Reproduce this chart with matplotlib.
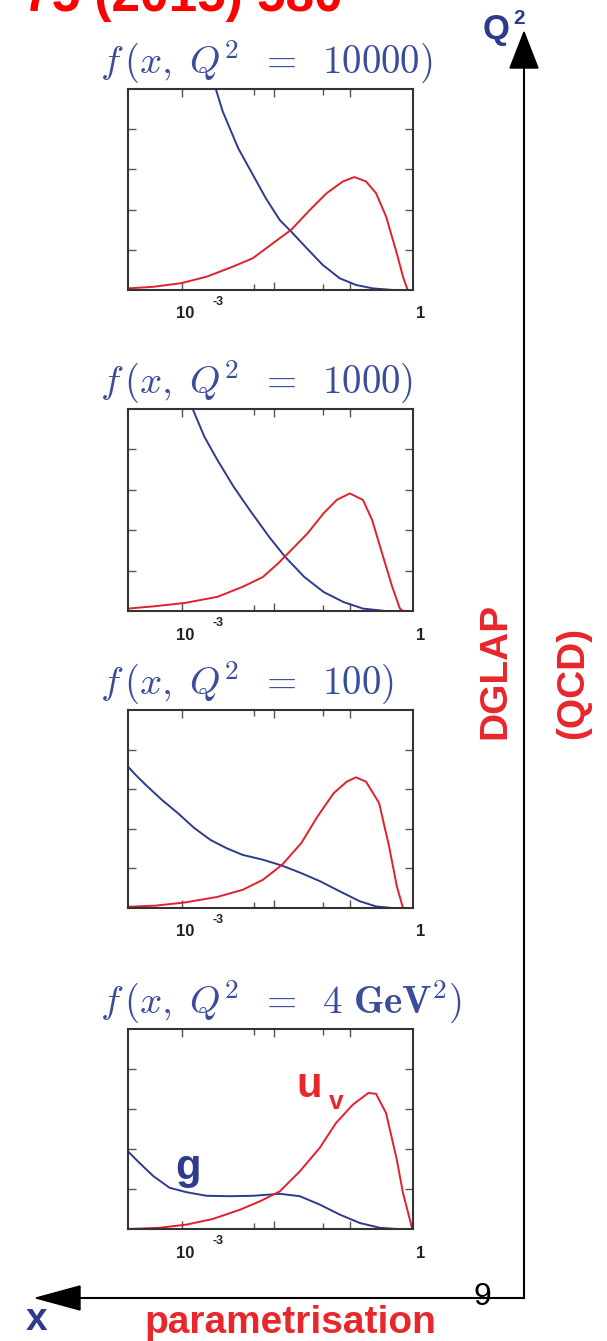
import matplotlib
matplotlib.use("Agg")
import matplotlib.pyplot as plt
from matplotlib.patches import Polygon
from matplotlib.lines import Line2D

plt.rcParams['mathtext.fontset'] = 'cm'
plt.rcParams['font.family'] = ['Liberation Sans', 'DejaVu Sans']

W, H = 607, 1341

# ---------------- data (x given as log10 x, y in arbitrary units 0..5) ----------------
titles = [r'$f\,(x,\;Q^2\;\;=\;\;\mathbf{10000})$', r'$f\,(x,\;Q^2\;\;=\;\;\mathbf{1000})$',
          r'$f\,(x,\;Q^2\;\;=\;\;\mathbf{100})$', r'$f\,(x,\;Q^2\;\;=\;\;\mathbf{4\ GeV}^\mathbf{2})$']

# Q^2 = 10000
g1_lx = [-2.56, -2.47, -2.27, -2.08, -1.91, -1.73, -1.58, -1.38, -1.17, -0.95, -0.74, -0.52, -0.26, 0.0]
g1_y = [5.0, 4.44, 3.53, 2.87, 2.28, 1.74, 1.45, 1.04, 0.62, 0.29, 0.125, 0.04, 0.0, 0.0]
u1_lx = [-3.7, -3.37, -3.01, -2.68, -2.34, -2.08, -1.82, -1.58, -1.34, -1.12, -0.91, -0.76, -0.61, -0.48, -0.35, -0.21, -0.13, -0.07]
u1_y = [0.04, 0.08, 0.17, 0.33, 0.58, 0.79, 1.16, 1.50, 1.99, 2.41, 2.70, 2.81, 2.70, 2.41, 1.83, 0.91, 0.33, 0.0]

# Q^2 = 1000
g2_lx = [-2.86, -2.71, -2.54, -2.33, -2.12, -1.87, -1.66, -1.41, -1.16, -0.90, -0.65, -0.36, 0.0]
g2_y = [5.0, 4.32, 3.74, 3.08, 2.50, 1.84, 1.34, 0.84, 0.47, 0.22, 0.06, 0.0, 0.0]
u2_lx = [-3.7, -3.34, -2.96, -2.54, -2.21, -1.95, -1.75, -1.58, -1.37, -1.16, -0.99, -0.82, -0.65, -0.53, -0.40, -0.27, -0.17, -0.13]
u2_y = [0.06, 0.12, 0.20, 0.35, 0.60, 0.84, 1.18, 1.51, 1.92, 2.42, 2.75, 2.91, 2.75, 2.25, 1.42, 0.60, 0.06, 0.0]

# Q^2 = 100
g3_lx = [-3.7, -3.60, -3.47, -3.26, -3.05, -2.84, -2.63, -2.42, -2.21, -1.95, -1.70, -1.45, -1.20, -0.95, -0.69, -0.48, -0.27, 0.0]
g3_y = [3.57, 3.36, 3.11, 2.73, 2.39, 2.02, 1.72, 1.51, 1.34, 1.22, 1.07, 0.88, 0.67, 0.42, 0.17, 0.04, 0.0, 0.0]
u3_lx = [-3.7, -3.34, -2.96, -2.54, -2.21, -1.95, -1.70, -1.45, -1.24, -1.03, -0.86, -0.74, -0.61, -0.44, -0.31, -0.21, -0.13]
u3_y = [0.03, 0.06, 0.14, 0.28, 0.46, 0.71, 1.09, 1.64, 2.31, 2.90, 3.19, 3.30, 3.19, 2.65, 1.55, 0.55, 0.0]

# Q^2 = 4 GeV^2
g4_lx = [-3.7, -3.55, -3.37, -3.16, -2.94, -2.68, -2.38, -2.08, -1.73, -1.47, -1.21, -0.95, -0.69, -0.43, -0.21, 0.0]
g4_y = [1.94, 1.65, 1.32, 1.03, 0.92, 0.83, 0.82, 0.83, 0.88, 0.82, 0.61, 0.36, 0.15, 0.03, 0.0, 0.0]
u4_lx = [-3.7, -3.29, -2.94, -2.60, -2.25, -1.99, -1.73, -1.47, -1.21, -1.00, -0.78, -0.58, -0.48, -0.35, -0.21, -0.13, -0.04, -0.01]
u4_y = [0.0, 0.03, 0.11, 0.25, 0.48, 0.69, 0.94, 1.44, 2.03, 2.65, 3.11, 3.40, 3.38, 2.90, 1.73, 0.90, 0.23, 0.0]

gluon = [(g1_lx, g1_y), (g2_lx, g2_y), (g3_lx, g3_y), (g4_lx, g4_y)]
uval = [(u1_lx, u1_y), (u2_lx, u2_y), (u3_lx, u3_y), (u4_lx, u4_y)]

# ---------------- styling ----------------
NAVY = '#2e3a8e'
TITLE_C = '#3a4c9c'
RED_L = '#e0202c'
RED_T = '#e8262b'

def fx(x):
    return x / W

def fy(y):
    return 1 - y / H

fig = plt.figure(figsize=(W / 100, H / 100), dpi=100)

boxes = [(89, 290), (409, 611), (710, 908), (1029, 1229)]
left_px, right_px = 128, 413

for i, (top, bot) in enumerate(boxes):
    ax = fig.add_axes([fx(left_px), fy(bot), (right_px - left_px) / W, (bot - top) / H])
    ax.plot(gluon[i][0], gluon[i][1], color=NAVY, lw=1.4)
    ax.plot(uval[i][0], uval[i][1], color=RED_L, lw=1.4)
    ax.set_xlim(-3.7, 0)
    ax.set_ylim(0, 5)
    ax.set_xticks([-3.0, -1.8, -0.82])
    ax.set_xticks([-2.06, -1.17], minor=True)
    ax.set_yticks([1, 2, 3, 4])
    ax.tick_params(which='both', direction='in', top=True, right=True,
                   labelbottom=False, labelleft=False, color='#555555', width=1)
    ax.tick_params(which='major', length=6)
    ax.tick_params(which='minor', length=4)
    for s in ax.spines.values():
        s.set_color('#333333')
        s.set_linewidth(1.5)
    # tick labels
    fig.text(fx(176), fy(bot + 24), '10', fontsize=12, fontweight='bold',
             ha='left', va='center', color='#222222')
    fig.text(fx(212), fy(bot + 12), '-3', fontsize=9, fontweight='bold',
             ha='left', va='center', color='#222222')
    fig.text(fx(421), fy(bot + 24), '1', fontsize=12, fontweight='bold',
             ha='center', va='center', color='#222222')
    # title
    fig.text(fx(100), fy(top - 27), titles[i], fontsize=28, color=TITLE_C,
             ha='left', va='center')

# curve labels in last panel
fig.text(fx(309), fy(1086), 'u', fontsize=30, fontweight='bold', color=RED_T,
         ha='center', va='center')
fig.text(fx(336), fy(1102), 'v', fontsize=19, fontweight='bold', color=RED_T,
         ha='center', va='center')
fig.text(fx(188), fy(1168), 'g', fontsize=30, fontweight='bold', color=NAVY,
         ha='center', va='center')

# big axes arrows
vx = 524
hy = 1298
fig.add_artist(Line2D([fx(vx), fx(vx)], [fy(hy), fy(66)], color='black', lw=1.5,
                      transform=fig.transFigure))
fig.add_artist(Line2D([fx(76), fx(vx)], [fy(hy), fy(hy)], color='black', lw=1.5,
                      transform=fig.transFigure))
fig.add_artist(Polygon([[fx(vx - 14), fy(68)], [fx(vx + 14), fy(68)], [fx(vx), fy(32)]],
                       closed=True, color='black', transform=fig.transFigure))
fig.add_artist(Polygon([[fx(80), fy(hy - 12)], [fx(80), fy(hy + 12)], [fx(36), fy(hy)]],
                       closed=True, color='black', transform=fig.transFigure))

fig.text(fx(496), fy(29), 'Q', fontsize=25, fontweight='bold', color=NAVY,
         ha='center', va='center')
fig.text(fx(519), fy(19), '2', fontsize=15, fontweight='bold', color=NAVY,
         ha='center', va='center')
fig.text(fx(37), fy(1320), 'x', fontsize=28, fontweight='bold', color=NAVY,
         ha='center', va='center')
fig.text(fx(290), fy(1323), 'parametrisation', fontsize=28, fontweight='bold',
         color=RED_T, ha='center', va='center')
fig.text(fx(482), fy(1297), '9', fontsize=23, color='black', ha='center', va='center')

fig.text(fx(495), fy(671), 'DGLAP', fontsize=28, fontweight='bold', color=RED_T,
         rotation=90, ha='center', va='center')
fig.text(fx(573), fy(683), '(QCD)', fontsize=28, fontweight='bold', color=RED_T,
         rotation=90, ha='center', va='center')

# partially visible reference at the top (cut by the upper edge, as in the original)
fig.text(fx(343), fy(11), '75 (2015) 580', fontsize=37, fontweight='bold',
         color='#ff0000', ha='right', va='baseline')

fig.savefig('out.png', dpi=100)
